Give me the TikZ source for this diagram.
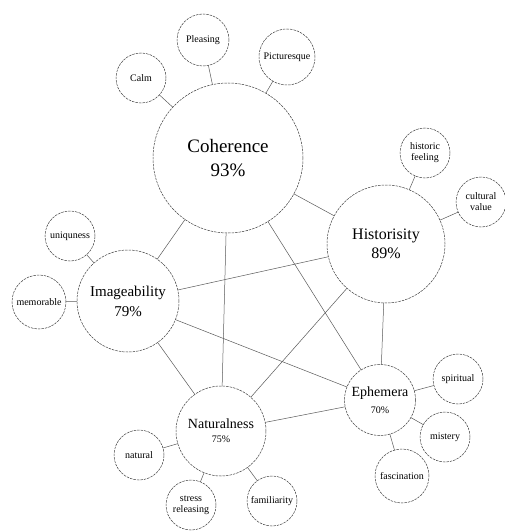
\documentclass[tikz,border=0pt]{standalone}
\usepackage{fontspec}
\setmainfont{Liberation Serif}
\definecolor{rimgray}{rgb}{0.25,0.25,0.25}
\definecolor{linkgray}{rgb}{0.35,0.35,0.35}

\begin{document}
\begin{tikzpicture}[x=1pt, y=-1pt,
  bigbub/.style={circle, draw=rimgray, line width=0.5pt, dash pattern=on 2.5pt off 1pt,
                 inner sep=0pt, outer sep=0pt, align=center, fill=white},
  smallbub/.style={bigbub, minimum size=50pt, font=\fontsize{10}{11}\selectfont},
  link/.style={draw=linkgray, line width=0.5pt}]

\useasboundingbox (0,0) rectangle (504,532);

% Hauptkreise mit Prozentwerten
\node[bigbub, minimum size=150pt, font=\fontsize{19}{24}\selectfont] (coh) at (228,158)
  {Coherence\\93\%};
\node[bigbub, minimum size=118pt, font=\fontsize{16}{19}\selectfont] (his) at (386,244)
  {Historisity\\89\%};
\node[bigbub, minimum size=102pt, font=\fontsize{15}{20}\selectfont] (ima) at (128,301)
  {Imageability\\79\%};
\node[bigbub, minimum size=90pt, font=\fontsize{14}{14}\selectfont] (nat) at (221,431)
  {Naturalness\\\fontsize{10}{14}\selectfont 75\%};
\node[bigbub, minimum size=71pt, font=\fontsize{14}{17}\selectfont] (eph) at (380,400)
  {Ephemera\\\fontsize{10}{17}\selectfont 70\%};

% Verbindungen zwischen den Hauptkreisen (alle Paare)
\draw[link] (coh) -- (his);
\draw[link] (coh) -- (ima);
\draw[link] (coh) -- (nat);
\draw[link] (coh) -- (eph);
\draw[link] (his) -- (ima);
\draw[link] (his) -- (nat);
\draw[link] (his) -- (eph);
\draw[link] (ima) -- (nat);
\draw[link] (ima) -- (eph);
\draw[link] (nat) -- (eph);

% Nebenkreise
\node[smallbub] (calm) at (141,78) {Calm};
\node[smallbub, minimum size=52pt] (plea) at (203,40) {Pleasing};
\node[smallbub, minimum size=56pt] (pict) at (287,57) {Picturesque};
\node[smallbub] (hfee) at (425,153) {historic\\feeling};
\node[smallbub] (cult) at (481,202) {cultural\\value};
\node[smallbub] (uniq) at (70,236) {uniquness};
\node[smallbub, minimum size=54pt] (memo) at (39,302) {memorable};
\node[smallbub] (spir) at (458,379) {spiritual};
\node[smallbub] (mist) at (445,437) {mistery};
\node[smallbub, minimum size=54pt] (fasc) at (402,476) {fascination};
\node[smallbub] (natu) at (139,455) {natural};
\node[smallbub] (stre) at (191,505) {stress\\releasing};
\node[smallbub] (fami) at (272,501) {familiarity};

% Stiele zu den Nebenkreisen
\draw[link] (coh) -- (calm);
\draw[link] (coh) -- (plea);
\draw[link] (coh) -- (pict);
\draw[link] (his) -- (hfee);
\draw[link] (his) -- (cult);
\draw[link] (ima) -- (uniq);
\draw[link] (ima) -- (memo);
\draw[link] (eph) -- (spir);
\draw[link] (eph) -- (mist);
\draw[link] (eph) -- (fasc);
\draw[link] (nat) -- (natu);
\draw[link] (nat) -- (stre);
\draw[link] (nat) -- (fami);

\end{tikzpicture}
\end{document}
